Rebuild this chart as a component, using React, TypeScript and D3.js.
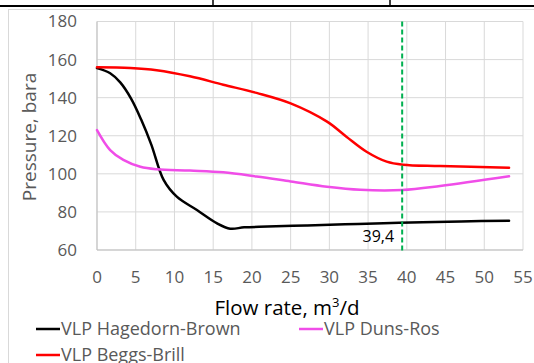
import React from "react";
import * as d3 from "d3";

const hbFlow = [0, 1.7, 3, 4.4, 5.7, 7, 8.6, 10.3, 12.9, 15.5, 17.2, 19, 22, 27, 32, 37, 42, 47, 53.2];
const hbPressure = [155.5, 152.8, 148, 139.5, 128.5, 115.5, 96.8, 88, 81, 74, 71.2, 71.9, 72.3, 72.9, 73.5, 74.1, 74.6, 75, 75.4];

const bbFlow = [0, 4.3, 7.7, 12, 16.3, 20.6, 25, 29.7, 32.2, 34.8, 37.4, 39.5, 44.3, 53.2];
const bbPressure = [156, 155.6, 154.4, 151.2, 146.8, 142.5, 137, 127.4, 119.5, 111.6, 106.4, 104.8, 104.1, 103.2];

const drFlow = [0, 1.7, 3.4, 5.6, 7.7, 12, 16.3, 20.6, 25, 29.7, 34, 39.4, 44.3, 53.2];
const drPressure = [123, 112.5, 107.3, 103.7, 102.4, 101.7, 100.8, 98.6, 96, 93.2, 91.6, 91.5, 93.6, 98.7];

const xTicks = [0, 5, 10, 15, 20, 25, 30, 35, 40, 45, 50, 55];
const yTicks = [60, 80, 100, 120, 140, 160, 180];
const markerFlow = 39.4;
const markerLabel = "39,4";

const seriesNames = ["VLP Hagedorn-Brown", "VLP Duns-Ros", "VLP Beggs-Brill"];
const seriesColors = ["#000000", "#f04de8", "#ff0000"];

const FONT = "'Open Sans', 'DejaVu Sans', sans-serif";

export default function App() {
  const W = 534;
  const H = 363;
  const x = d3.scaleLinear().domain([0, 55]).range([97, 523]);
  const y = d3.scaleLinear().domain([60, 180]).range([250, 21.5]);

  const line = d3
    .line<[number, number]>()
    .x((d) => x(d[0]))
    .y((d) => y(d[1]))
    .curve(d3.curveCatmullRom.alpha(0.5));

  const series = [
    { flow: hbFlow, p: hbPressure, color: seriesColors[0] },
    { flow: drFlow, p: drPressure, color: seriesColors[1] },
    { flow: bbFlow, p: bbPressure, color: seriesColors[2] },
  ];

  const legend = [
    { name: seriesNames[0], color: seriesColors[0], lx: 36, ly: 329 },
    { name: seriesNames[1], color: seriesColors[1], lx: 299, ly: 329 },
    { name: seriesNames[2], color: seriesColors[2], lx: 36, ly: 355 },
  ];

  return (
    <svg
      width={W}
      height={H}
      style={{ position: "absolute", left: 0, top: 0, background: "#fff" }}
    >
      {/* document table borders */}
      <line x1={0} x2={W} y1={6} y2={6} stroke="#000" strokeWidth={2} />
      <line x1={213} x2={213} y1={0} y2={6} stroke="#000" strokeWidth={1.5} />
      <line x1={390} x2={390} y1={0} y2={6} stroke="#000" strokeWidth={1.5} />
      {/* chart frame */}
      <rect x={8.5} y={9.5} width={W} height={H} fill="none" stroke="#d9d9d9" strokeWidth={1} />

      {/* gridlines */}
      {yTicks.map((t) => (
        <line key={"gy" + t} x1={x(0)} x2={x(55)} y1={y(t)} y2={y(t)} stroke="#d9d9d9" strokeWidth={1} />
      ))}
      {xTicks.map((t) => (
        <line key={"gx" + t} x1={x(t)} x2={x(t)} y1={y(180)} y2={y(60)} stroke="#d9d9d9" strokeWidth={1} />
      ))}
      <line x1={x(0)} x2={x(0)} y1={y(180)} y2={y(60)} stroke="#bfbfbf" strokeWidth={1} />
      <line x1={x(0)} x2={x(55)} y1={y(60)} y2={y(60)} stroke="#bfbfbf" strokeWidth={1} />

      {/* tick labels */}
      {yTicks.map((t) => (
        <text key={"ty" + t} x={77} y={y(t)} dy="0.35em" textAnchor="end" fontFamily={FONT} fontSize={17} fill="#595959">
          {t}
        </text>
      ))}
      {xTicks.map((t) => (
        <text key={"tx" + t} x={x(t)} y={283} textAnchor="middle" fontFamily={FONT} fontSize={17} fill="#595959">
          {t}
        </text>
      ))}

      {/* series */}
      {series.map((s, i) => (
        <path
          key={"s" + i}
          d={line(s.flow.map((f, j) => [f, s.p[j]] as [number, number])) || ""}
          fill="none"
          stroke={s.color}
          strokeWidth={2.5}
          strokeLinejoin="round"
          strokeLinecap="round"
        />
      ))}

      {/* marker */}
      <line
        x1={x(markerFlow)}
        x2={x(markerFlow)}
        y1={y(180)}
        y2={253}
        stroke="#00b050"
        strokeWidth={2}
        strokeDasharray="5,3"
      />
      <text x={x(markerFlow) - 8} y={242} textAnchor="end" fontFamily={FONT} fontSize={16} fill="#000">
        {markerLabel}
      </text>

      {/* axis titles */}
      <text
        transform={`translate(36,137) rotate(-90)`}
        textAnchor="middle"
        fontFamily={FONT}
        fontSize={19}
        fill="#595959"
      >
        Pressure, bara
      </text>
      <text x={287} y={315} textAnchor="middle" fontFamily={FONT} fontSize={20.5} fill="#000">
        Flow rate, m<tspan dy={-8} fontSize={13}>3</tspan>
        <tspan dy={8}>/d</tspan>
      </text>

      {/* legend */}
      {legend.map((l, i) => (
        <g key={"lg" + i}>
          <line x1={l.lx} x2={l.lx + 24} y1={l.ly} y2={l.ly} stroke={l.color} strokeWidth={2.5} />
          <text x={l.lx + 25} y={l.ly} dy="0.35em" fontFamily={FONT} fontSize={18} fill="#595959">
            {l.name}
          </text>
        </g>
      ))}
    </svg>
  );
}
